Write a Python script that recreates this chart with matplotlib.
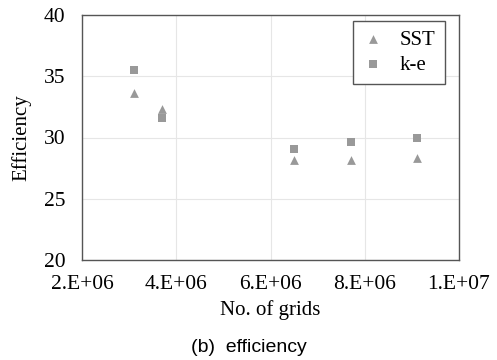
import matplotlib
matplotlib.use("Agg")
import matplotlib.pyplot as plt
from matplotlib.ticker import FixedLocator

# grid counts and efficiency values for the two turbulence models
grids = [3.1e6, 3.7e6, 6.5e6, 7.7e6, 9.1e6]
eff_sst = [33.6, 32.3, 28.2, 28.2, 28.35]
eff_ke = [35.5, 31.6, 29.05, 29.6, 30.0]
x_ticks = [2e6, 4e6, 6e6, 8e6, 1e7]
x_tick_labels = ["2.E+06", "4.E+06", "6.E+06", "8.E+06", "1.E+07"]
y_ticks = [20, 25, 30, 35, 40]

serif = "Liberation Serif"
marker_color = "#999999"

fig = plt.figure(figsize=(4.97, 3.6), dpi=100)
ax = fig.add_axes([82 / 497, 1 - 260 / 360, 377 / 497, 245 / 360])

ax.scatter(grids, eff_sst, marker="^", s=40, color=marker_color, label="SST", zorder=3, linewidths=0)
ax.scatter(grids, eff_ke, marker="s", s=36, color=marker_color, label="k-e", zorder=3, linewidths=0)

ax.set_xlim(2e6, 1e7)
ax.set_ylim(20, 40)
ax.xaxis.set_major_locator(FixedLocator(x_ticks))
ax.set_xticklabels(x_tick_labels, fontfamily=serif, fontsize=15.5)
ax.set_yticks(y_ticks)
ax.set_yticklabels([str(v) for v in y_ticks], fontfamily=serif, fontsize=15.5)
ax.tick_params(axis="y", length=0, pad=12)
ax.tick_params(axis="x", length=0, pad=11)
ax.grid(True, color="#e6e6e6", linewidth=0.8)
ax.set_axisbelow(True)
for sp in ax.spines.values():
    sp.set_color("#555555")
    sp.set_linewidth(1.0)

ax.set_xlabel("No. of grids", fontfamily=serif, fontsize=15, labelpad=4)
ax.set_ylabel("Efficiency", fontfamily=serif, fontsize=15, labelpad=9)

leg = ax.legend(loc="upper right", bbox_to_anchor=(0.963, 0.976), borderaxespad=0,
                prop={"family": serif, "size": 15},
                fancybox=False, framealpha=1, edgecolor="#555555",
                handlelength=1.0, handletextpad=0.8, borderpad=0.45, labelspacing=0.25)
leg.get_frame().set_linewidth(1.0)

fig.text(0.5, 1 - 347 / 360, "(b)  efficiency", ha="center", va="center",
         fontfamily="Liberation Sans", fontsize=14)

fig.savefig("out.png", dpi=100)
